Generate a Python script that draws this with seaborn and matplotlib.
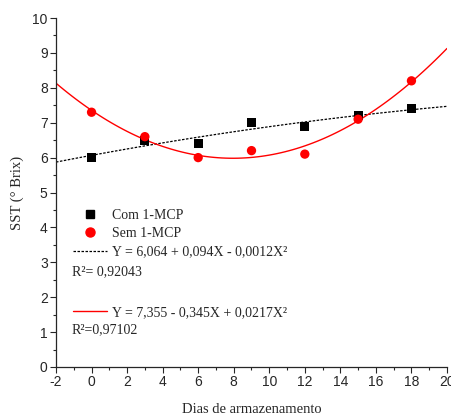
import numpy as np
import pandas as pd
import seaborn as sns
import matplotlib.pyplot as plt
from matplotlib.lines import Line2D
from matplotlib.ticker import MultipleLocator

# data
dias = [0, 3, 6, 9, 12, 15, 18]
com_mcp = [6.0, 6.5, 6.4, 7.0, 6.9, 7.2, 7.4]
sem_mcp = [7.3, 6.6, 6.0, 6.2, 6.1, 7.1, 8.2]

eq_com = "Y = 6,064 + 0,094X - 0,0012X²"
eq_sem = "Y = 7,355 - 0,345X + 0,0217X²"
r2_com = "R²= 0,92043"
r2_sem = "R²=0,97102"

df = pd.DataFrame({"dias": dias, "com": com_mcp, "sem": sem_mcp})

sns.set_style("ticks")
plt.rcParams['font.family'] = ['Liberation Sans', 'DejaVu Sans']
plt.rcParams['axes.unicode_minus'] = False

fig = plt.figure(figsize=(4.52, 4.17), dpi=100)
ax = fig.add_axes([56 / 452, 50 / 417, 391 / 452, 349 / 417])
ax.set_xlim(-2, 20)
ax.set_ylim(0, 10)

# fitted 2nd order curves over the full x range
sns.regplot(data=df, x="dias", y="com", order=2, ci=None, truncate=False,
            scatter=False, ax=ax,
            line_kws=dict(color="black", lw=0.9, ls=(0, (2, 1.2))))
sns.regplot(data=df, x="dias", y="sem", order=2, ci=None, truncate=False,
            scatter=False, ax=ax, line_kws=dict(color="red", lw=1.0))

sns.scatterplot(data=df, x="dias", y="com", marker="s", color="black",
                s=40, edgecolor="none", ax=ax, zorder=5)
sns.scatterplot(data=df, x="dias", y="sem", marker="o", color="red",
                s=45, edgecolor="none", ax=ax, zorder=5)

ax.set_xlim(-2, 20)
ax.set_ylim(0, 10)
ax.xaxis.set_major_locator(MultipleLocator(2))
ax.xaxis.set_minor_locator(MultipleLocator(1))
ax.yaxis.set_major_locator(MultipleLocator(1))
ax.yaxis.set_minor_locator(MultipleLocator(0.5))
ax.tick_params(which="major", length=4, width=0.8, labelsize=10, pad=2,
               labelfontfamily="Liberation Sans")
ax.tick_params(which="minor", length=2.5, width=0.8)
sns.despine(ax=ax)
for s in ["left", "bottom"]:
    ax.spines[s].set_linewidth(0.9)

serif = ['Liberation Serif', 'DejaVu Serif']
ax.set_xlabel("Dias de armazenamento", family=serif, fontsize=10.5, labelpad=10)
ax.set_ylabel("SST (° Brix)", family=serif, fontsize=10.5, labelpad=6)

# legend blocks
h1 = [
    Line2D([], [], marker="s", color="black", ls="none", markersize=6),
    Line2D([], [], marker="o", color="red", ls="none", markersize=6.5),
    Line2D([], [], color="black", lw=0.9, ls=(0, (2, 1.2))),
]
leg1 = ax.legend(h1, ["Com 1-MCP", "Sem 1-MCP", eq_com], loc="upper left",
                 bbox_to_anchor=(0.03, 0.47), frameon=False, handlelength=2.4,
                 handletextpad=0.4, labelspacing=0.4, borderaxespad=0,
                 prop={"family": serif, "size": 10})
ax.add_artist(leg1)
h2 = [Line2D([], [], color="red", lw=1.0)]
ax.legend(h2, [eq_sem], loc="upper left", bbox_to_anchor=(0.03, 0.19),
          frameon=False, handlelength=2.4, handletextpad=0.4, borderaxespad=0,
          prop={"family": serif, "size": 10})

ax.text(0.04, 0.272, r2_com, transform=ax.transAxes, family=serif,
        fontsize=10, va="center")
ax.text(0.04, 0.106, r2_sem, transform=ax.transAxes, family=serif,
        fontsize=10, va="center")

fig.savefig("out.png", dpi=100)
